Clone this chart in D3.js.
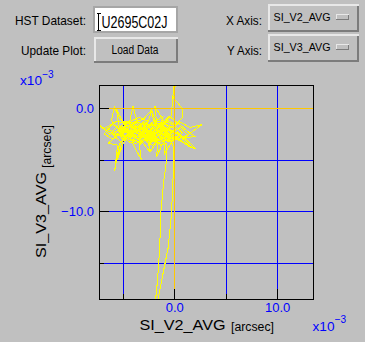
<!DOCTYPE html>
<html>
<head>
<meta charset="utf-8">
<script src="https://cdn.jsdelivr.net/npm/d3@7"></script>
<style>
  body { margin: 0; background: #c0c0c0; }
  svg { display: block; font-family: "Liberation Sans", Arial, Helvetica, sans-serif; }
</style>
</head>
<body>
<svg id="chart" width="365" height="342"></svg>
<script>
// pointing track, SI_V2_AVG / SI_V3_AVG in units of 1e-3 arcsec
const slewIn = [[0.3, 4.0], [-0.05, 0.9], [0.15, 0.74], [0.85, -0.16], [0.85, -0.87]];
const jitterA = [
  [0.2, -1.6], [-0.6, -1.2], [-1.4, -2.1], [-0.9, -2.8], [-2.1, -1.9], [-2.8, -2.6], [-1.9, -3.1],
  [-3.3, -2.2], [-2.6, -1.4], [-3.9, -2.0], [-3.1, -2.9], [-4.2, -2.5], [-3.6, -1.6], [-2.4, -2.2],
  [-1.6, -1.5], [-0.4, -2.3], [0.6, -1.9], [1.3, -2.6], [0.4, -3.0], [-0.8, -2.4], [-1.7, -3.3],
  [-2.3, -4.2], [-2.7, -2.7], [-3.5, -3.1], [-4.6, -2.2], [-5.3, -1.7], [-4.8, -2.8], [-5.9, -2.3],
  [-6.6, -1.9], [-5.6, -1.3], [-4.4, -1.5], [-3.0, -1.1], [-2.2, -0.2], [-2.0, -1.3], [-1.1, -0.9],
  [-1.5, -2.0], [-2.6, -2.5], [-3.4, -1.9], [-4.1, -3.3], [-3.2, -5.0], [-3.4, -3.4], [-2.8, -2.0],
  [-1.9, -2.6], [-1.0, -1.8], [0.1, -2.4], [1.0, -2.9], [2.0, -2.75], [1.2, -2.2], [0.3, -1.4],
  [-0.5, -0.8], [-1.3, -1.7], [-2.4, -1.6], [-3.7, -2.4], [-4.9, -1.9], [-5.8, -2.9], [-6.4, -3.4],
  [-5.5, -3.6], [-5.78, -6.1], [-5.3, -3.4], [-4.5, -2.6], [-3.8, -3.5], [-2.9, -3.0], [-2.1, -3.6],
  [-1.2, -2.9], [-0.5, -3.3], [0.5, -2.6], [1.67, -3.9], [0.9, -3.3], [-0.3, -2.8], [-1.4, -2.3],
  [-2.5, -2.9], [-3.6, -2.2], [-4.7, -2.9], [-5.2, -2.1], [-4.3, -1.2], [-4.0, 0.15], [-3.6, -1.3],
  [-2.7, -1.8], [-1.8, -1.2], [-0.7, -1.6], [0.2, -2.1], [-0.9, -3.0], [-1.7, -4.7], [-1.6, -3.2],
  [-2.4, -2.4], [-3.3, -2.7], [-4.0, -2.0], [-3.0, -2.4], [-2.0, -2.0], [-2.8, -1.5], [-3.9, -1.4],
  [-5.0, -1.3], [-5.6, -0.1], [-5.4, -1.6], [-6.2, -2.6], [-7.5, -1.45], [-6.5, -2.2], [-5.6, -2.6],
  [-4.4, -3.0], [-3.3, -3.3], [-2.2, -3.0], [-1.3, -3.6], [-0.76, -3.4]
];
const excursion = [
  [-0.76, -5.2], [-1.02, -7.13], [-1.31, -10.33], [-1.41, -13.6], [-1.63, -16.8], [-1.95, -20.0],
  [-1.75, -20.0], [-1.57, -18.46], [-1.24, -16.8], [-0.6, -13.6], [-0.27, -10.33], [-0.12, -7.13], [-0.05, -3.9]
];
const jitterC = [
  [-0.4, -2.9], [-0.9, -2.5], [-1.3, -2.9], [-1.8, -2.4], [-2.2, -2.8], [-2.7, -2.3], [-3.1, -2.7],
  [-3.6, -2.4], [-4.0, -2.8], [-4.5, -2.5], [-4.9, -2.1], [-4.6, -1.7], [-4.1, -2.0], [-3.7, -1.7],
  [-3.2, -2.1], [-2.8, -1.7], [-2.3, -2.0], [-1.9, -1.6], [-1.4, -1.9], [-1.0, -1.5], [-0.5, -1.9],
  [-0.2, -2.3], [-0.6, -2.6], [-1.1, -2.2], [-1.6, -2.6], [-2.0, -2.2], [-2.5, -2.6], [-3.0, -2.2],
  [-3.4, -2.6], [-3.9, -2.2], [-4.3, -2.6], [-4.8, -2.3], [-5.2, -2.7], [-5.0, -3.1], [-4.5, -2.9],
  [-4.1, -3.2], [-3.6, -2.9], [-3.2, -3.2], [-2.7, -2.9], [-2.3, -3.3], [-1.8, -2.9], [-1.4, -3.2],
  [-0.9, -2.8], [-0.5, -3.0], [-0.8, -2.0], [-1.3, -1.4], [-1.7, -1.9], [-2.2, -1.4], [-2.6, -1.9],
  [-3.0, -1.5], [-3.5, -1.9], [-3.9, -1.6], [-4.4, -1.9], [-4.8, -1.5], [-5.3, -1.9], [-5.1, -2.4],
  [-4.6, -2.1], [-4.2, -2.4], [-3.7, -2.1], [-3.3, -2.4], [-2.9, -2.0], [-2.4, -2.4], [-2.0, -2.0],
  [-1.5, -2.3], [-1.1, -1.9], [-0.6, -2.3], [-0.3, -2.7], [-0.7, -3.2], [-1.2, -2.7], [-1.6, -3.0],
  [-2.1, -2.6], [-2.6, -3.1], [-3.0, -2.6], [-3.5, -3.0], [-3.9, -2.6], [-4.4, -3.1], [-4.8, -2.7],
  [-5.4, -2.3], [-5.0, -1.9], [-4.6, -1.4], [-4.2, -1.7], [-3.8, -1.3], [-3.3, -1.6], [-2.9, -1.3],
  [-2.4, -1.7], [-2.0, -1.3], [-1.5, -1.6], [-1.1, -1.2], [-0.7, -1.7], [-0.4, -2.1], [-0.8, -2.4],
  [-1.2, -2.1], [-1.7, -2.5], [-2.1, -2.1], [-2.6, -2.4], [-3.1, -1.9], [-3.5, -2.3], [-4.0, -1.9],
  [-4.4, -2.3], [-4.9, -1.8], [-5.5, -2.2], [-6.0, -2.5], [-5.6, -2.9], [-5.1, -3.3], [-4.7, -3.0],
  [-4.2, -3.4], [-3.7, -3.1], [-3.3, -3.5], [-2.8, -3.1], [-2.4, -3.5], [-1.9, -3.1], [-1.4, -3.4],
  [-1.0, -3.1], [-0.6, -3.1]
];
const jitterB = [
  [-0.6, -3.1], [-1.5, -2.6], [-2.3, -3.2], [-3.1, -2.5], [-3.9, -2.9], [-4.6, -2.3], [-5.5, -2.0],
  [-6.1, -1.2], [-5.8, 0.1], [-5.3, -1.0], [-4.6, -1.8], [-3.7, -1.5], [-2.9, -2.1], [-2.1, -1.6],
  [-1.3, -2.4], [-0.3, -1.9], [0.7, -1.4], [1.5, -1.9], [2.7, -1.6], [1.6, -2.4], [0.6, -3.2],
  [-0.4, -2.6], [-1.2, -2.0], [-2.3, -2.6], [-3.2, -1.8], [-4.1, -2.6], [-4.9, -3.3], [-5.6, -5.2],
  [-5.0, -3.0], [-4.3, -2.2], [-3.5, -2.8], [-2.6, -2.1], [-1.7, -2.8], [-0.9, -2.2], [0.0, -3.2],
  [0.8, -2.4], [-0.1, -1.6], [-1.0, -1.3], [-1.9, 0.2], [-1.7, -1.4], [-2.5, -1.9], [-3.4, -2.5],
  [-4.2, -1.8], [-5.1, -2.4], [-6.0, -3.0], [-6.8, -2.5], [-6.0, -1.6], [-5.0, -2.2], [-4.0, -2.7],
  [-3.0, -3.4], [-2.4, -4.2], [-2.3, -3.0], [-1.5, -2.2], [-0.6, -2.9], [0.3, -2.3], [1.2, -3.1],
  [2.15, -4.0], [1.1, -3.5], [0.1, -2.8], [-0.9, -4.35], [-0.9, -3.0], [-1.9, -2.3], [-2.7, -3.1],
  [-3.7, -2.0], [-4.5, -1.4], [-3.4, -0.9], [-2.5, -1.3], [-2.2, -0.2], [-1.6, -1.9], [-2.6, -2.7],
  [-3.6, -3.0], [-4.4, -2.3], [-3.2, -2.0], [-2.2, -2.4], [-1.2, -1.6], [-0.27, -0.72]
];
const slewOut = [[-0.17, 0.61], [-0.02, 2.3], [0.0, 4.0]];

const gridX = [-5, 5, 10];
const gridY = [-5, -10, -15];
const majorX = [0, 10];
const minorX = [-5, 5];
const majorY = [0, -10];
const minorY = [-5, -15];

const svg = d3.select("#chart");
const W = 365, H = 342;
const plot = { left: 99, top: 85, right: 313, bottom: 299 };

svg.append("rect").attr("width", W).attr("height", H).attr("fill", "#c0c0c0");

// ---- controls ----
function bevel(x0, y0, w, h, t) {
  const g = svg.append("g").attr("shape-rendering", "crispEdges");
  g.append("rect").attr("x", x0).attr("y", y0).attr("width", w).attr("height", h).attr("fill", "#c0c0c0");
  g.append("rect").attr("x", x0).attr("y", y0).attr("width", w).attr("height", t).attr("fill", "#e8e8e8");
  g.append("rect").attr("x", x0).attr("y", y0).attr("width", t).attr("height", h).attr("fill", "#e8e8e8");
  g.append("rect").attr("x", x0).attr("y", y0 + h - t).attr("width", w).attr("height", t).attr("fill", "#7c7c7c");
  g.append("rect").attr("x", x0 + w - t).attr("y", y0 + t).attr("width", t).attr("height", h - t).attr("fill", "#7c7c7c");
  return g;
}

function label(txt, x0, y0, size, len, color) {
  return svg.append("text").attr("x", x0).attr("y", y0)
    .attr("font-size", size).attr("fill", color || "#000")
    .attr("textLength", len).attr("lengthAdjust", "spacingAndGlyphs")
    .text(txt);
}

label("HST Dataset:", 15, 24.5, 13, 71);
label("Update Plot:", 21, 54.5, 13, 65);
label("X Axis:", 226, 24.5, 13, 36);
label("Y Axis:", 227, 54.5, 13, 35);

// dataset text field
svg.append("rect").attr("x", 93).attr("y", 6).attr("width", 85).attr("height", 27).attr("fill", "#a6a6a6");
svg.append("rect").attr("x", 95).attr("y", 8).attr("width", 81).attr("height", 23).attr("fill", "#ffffff");
svg.append("path").attr("d", "M96.5,13.5H100.5M98.5,13.5V30.5M96.5,30.5H100.5")
  .attr("stroke", "#000").attr("fill", "none").attr("shape-rendering", "crispEdges");
label("U2695C02J", 101.5, 27.5, 17, 66);

// load button
bevel(94, 37, 84, 26, 2);
label("Load Data", 111.5, 53.5, 12, 47);

// axis menus
[["SI_V2_AVG", 4], ["SI_V3_AVG", 34]].forEach(([name, top]) => {
  bevel(268, top, 91, 28, 2);
  label(name, 273.5, top + 16.5, 10.5, 57);
  bevel(336, top + 10, 13, 6, 1);
});

// ---- plot ----
const x = d3.scaleLinear().domain([-7.301, 13.476]).range([plot.left, plot.right]);
const y = d3.scaleLinear().domain([2.227, -18.49]).range([plot.top, plot.bottom]);

svg.append("defs").append("clipPath").attr("id", "clip")
  .append("rect").attr("x", plot.left + 0.5).attr("y", plot.top + 0.5)
  .attr("width", plot.right - plot.left).attr("height", plot.bottom - plot.top);

// blue grid
svg.append("g").attr("transform", `translate(0,${plot.bottom})`)
  .call(d3.axisBottom(x).tickValues(gridX).tickSize(-(plot.bottom - plot.top)).tickFormat(""))
  .call(g => g.select(".domain").remove())
  .call(g => g.selectAll("line").attr("stroke", "#0000ff").attr("shape-rendering", "crispEdges"));
svg.append("g").attr("transform", `translate(${plot.left},0)`)
  .call(d3.axisLeft(y).tickValues(gridY).tickSize(-(plot.right - plot.left)).tickFormat(""))
  .call(g => g.select(".domain").remove())
  .call(g => g.selectAll("line").attr("stroke", "#0000ff").attr("shape-rendering", "crispEdges"));

// data track
const track = [].concat(slewIn, jitterA, excursion, jitterC, jitterB, slewOut);
const line = d3.line().x(d => x(d[0])).y(d => y(d[1]));
svg.append("path").datum(track)
  .attr("clip-path", "url(#clip)")
  .attr("d", line)
  .attr("fill", "none")
  .attr("stroke", "#ffff00")
  .attr("stroke-width", 1)
  .attr("shape-rendering", "crispEdges");

// zero lines
svg.append("g").attr("transform", `translate(0,${plot.bottom})`)
  .call(d3.axisBottom(x).tickValues([0]).tickSize(-(plot.bottom - plot.top)).tickFormat(""))
  .call(g => g.select(".domain").remove())
  .call(g => g.selectAll("line").attr("stroke", "#ffc800").attr("shape-rendering", "crispEdges"));
svg.append("g").attr("transform", `translate(${plot.left},0)`)
  .call(d3.axisLeft(y).tickValues([0]).tickSize(-(plot.right - plot.left)).tickFormat(""))
  .call(g => g.select(".domain").remove())
  .call(g => g.selectAll("line").attr("stroke", "#ffc800").attr("shape-rendering", "crispEdges"));

// ticks and labels
const fmt = d3.format(".1f");
function styleAxis(g) {
  g.select(".domain").remove();
  g.attr("font-family", null).attr("font-size", 13);
  g.selectAll("line").attr("stroke", "#000").attr("shape-rendering", "crispEdges");
  g.selectAll("text").attr("fill", "#0000ff");
}
svg.append("g").attr("transform", `translate(0,${plot.bottom})`)
  .call(d3.axisBottom(x).tickValues(majorX).tickSize(-10).tickPadding(4).tickFormat(fmt)).call(styleAxis);
svg.append("g").attr("transform", `translate(0,${plot.bottom})`)
  .call(d3.axisBottom(x).tickValues(minorX).tickSize(-5).tickFormat("")).call(styleAxis);
svg.append("g").attr("transform", `translate(${plot.left},0)`)
  .call(d3.axisLeft(y).tickValues(majorY).tickSize(-10).tickPadding(5).tickFormat(fmt)).call(styleAxis);
svg.append("g").attr("transform", `translate(${plot.left},0)`)
  .call(d3.axisLeft(y).tickValues(minorY).tickSize(-5).tickFormat("")).call(styleAxis);

// frame
svg.append("rect")
  .attr("x", plot.left + 0.5).attr("y", plot.top + 0.5)
  .attr("width", plot.right - plot.left).attr("height", plot.bottom - plot.top)
  .attr("fill", "none").attr("stroke", "#000").attr("shape-rendering", "crispEdges");

// axis titles
label("SI_V2_AVG", 139.5, 329.5, 15.5, 86);
label("[arcsec]", 231, 331, 12, 43);
svg.append("text").attr("transform", "translate(45.5,258) rotate(-90)")
  .attr("font-size", 15.5).attr("textLength", 86).attr("lengthAdjust", "spacingAndGlyphs")
  .text("SI_V3_AVG");
svg.append("text").attr("transform", "translate(50.5,168) rotate(-90)")
  .attr("font-size", 12).attr("textLength", 43).attr("lengthAdjust", "spacingAndGlyphs")
  .text("[arcsec]");

// exponent markers
function exponent(x0, y0) {
  label("x10", x0, y0, 13, 22, "#0000ff");
  label("\u22123", x0 + 22, y0 - 7.5, 11, 11.5, "#0000ff");
}
exponent(20, 85);
exponent(312.5, 330.5);
</script>
</body>
</html>
